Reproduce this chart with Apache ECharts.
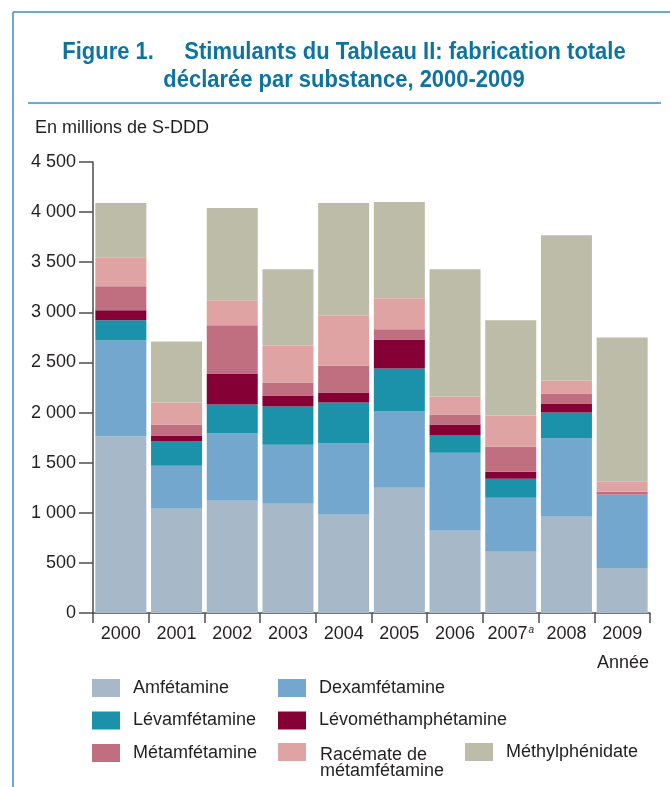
<!DOCTYPE html>
<html>
<head>
<meta charset="utf-8">
<script src="https://cdn.jsdelivr.net/npm/echarts@6/dist/echarts.min.js"></script>
<style>
    html, body { margin: 0; padding: 0; background: #fff; }
    #chart { width: 670px; height: 787px; }
</style>
</head>
<body>
<div id="chart"></div>
<script>
    // années (2007 porte une note a)
    var years = ['2000', '2001', '2002', '2003', '2004', '2005', '2006', '2007', '2008', '2009'];
    var noteYears = ['2007'];
    var yTicks = [0, 500, 1000, 1500, 2000, 2500, 3000, 3500, 4000, 4500];

    // en millions de S-DDD
    var amfetamine = [1760, 1040, 1120, 1090, 980, 1250, 820, 610, 960, 450];
    var dexamfetamine = [960, 430, 670, 590, 710, 760, 780, 540, 780, 730];
    var levamfetamine = [200, 240, 290, 380, 410, 430, 170, 190, 260, 0];
    var levomethamphetamine = [100, 60, 310, 110, 100, 290, 110, 70, 90, 0];
    var metamfetamine = [240, 110, 480, 130, 270, 100, 100, 250, 100, 30];
    var racemate = [290, 220, 250, 370, 500, 310, 180, 310, 130, 100];
    var methylphenidate = [540, 610, 920, 760, 1120, 960, 1270, 950, 1450, 1440];

    var seriesNames = ['Amfétamine', 'Dexamfétamine', 'Lévamfétamine', 'Lévométhamphétamine',
        'Métamfétamine', 'Racémate de métamfétamine', 'Méthylphénidate'];
    var seriesValues = [amfetamine, dexamfetamine, levamfetamine, levomethamphetamine,
        metamfetamine, racemate, methylphenidate];
    var colors = ['#a7b8c9', '#74a7cd', '#1b92aa', '#840035', '#c06f80', '#e0a3a4', '#bdbca8'];

    var textColor = '#231f20';
    var font = "'Liberation Sans', Arial, sans-serif";
    var titleColor = '#0f73a0';
    var frameColor = '#3b8ec0';
    var axisColor = '#4d4d4d';

    var chart = echarts.init(document.getElementById('chart'), null, { renderer: 'canvas' });

    var series = seriesNames.map(function (name, i) {
        return {
            name: name,
            type: 'bar',
            stack: 'total',
            barWidth: 51,
            itemStyle: { color: colors[i] },
            emphasis: { disabled: true },
            data: seriesValues[i]
        };
    });

    function legendAt(left, top, names, hideText) {
        return {
            left: left,
            top: top,
            padding: 0,
            orient: 'vertical',
            itemWidth: 28,
            itemHeight: 18,
            itemGap: 14.5,
            icon: 'rect',
            selectedMode: false,
            data: names,
            formatter: function (n) { return hideText ? '' : n; },
            textStyle: {
                color: textColor,
                fontFamily: font,
                fontSize: 18,
                lineHeight: 17,
                padding: [0, 0, 0, 8]
            }
        };
    }

    // titre: police grasse resserrée horizontalement
    function titleLine(text, y) {
        return {
            type: 'text', x: 344, y: y, scaleX: 0.915,
            style: {
                text: text, fill: titleColor, font: 'bold 24px ' + font,
                align: 'center', verticalAlign: 'middle'
            }
        };
    }

    var option = {
        animation: false,
        backgroundColor: '#fff',
        grid: { left: 93, right: 20, top: 162, bottom: 174, containLabel: false },
        xAxis: {
            type: 'category',
            data: years,
            axisLine: { lineStyle: { color: axisColor, width: 1.5 } },
            axisTick: { show: true, interval: 0, length: 10, lineStyle: { color: axisColor, width: 1.5 } },
            axisLabel: {
                interval: 0,
                color: textColor,
                fontFamily: font,
                fontSize: 18,
                margin: 12,
                formatter: function (v) {
                    return noteYears.indexOf(v) >= 0 ? v + '{sup|a}' : v;
                },
                rich: {
                    sup: { fontSize: 10, fontStyle: 'italic', fontFamily: font, color: textColor, padding: [0, 0, 9, 1] }
                }
            }
        },
        yAxis: {
            type: 'value',
            min: yTicks[0],
            max: yTicks[yTicks.length - 1],
            interval: yTicks[1] - yTicks[0],
            splitLine: { show: false },
            axisLine: { show: true, lineStyle: { color: axisColor, width: 1.5 } },
            axisTick: { show: true, length: 14, lineStyle: { color: axisColor, width: 1.5 } },
            axisLabel: {
                color: textColor,
                fontFamily: font,
                fontSize: 18,
                margin: 17,
                formatter: function (v) {
                    return String(v).replace(/\B(?=(\d{3})+(?!\d))/g, ' ');
                }
            }
        },
        legend: [
            legendAt(92, 679, [seriesNames[0], seriesNames[2], seriesNames[4]]),
            legendAt(278, 679, [seriesNames[1], seriesNames[3]]),
            legendAt(278, 743, [seriesNames[5]], true),
            legendAt(465, 743, [seriesNames[6]])
        ],
        graphic: [
            // cadre
            { type: 'line', shape: { x1: 13, y1: 12, x2: 670, y2: 12 }, style: { stroke: frameColor, lineWidth: 1.5 } },
            { type: 'line', shape: { x1: 13, y1: 12, x2: 13, y2: 787 }, style: { stroke: frameColor, lineWidth: 1.5 } },
            { type: 'line', shape: { x1: 28, y1: 103, x2: 661, y2: 103 }, style: { stroke: frameColor, lineWidth: 1.5 } },
            titleLine('Figure 1.     Stimulants du Tableau II: fabrication totale', 52),
            titleLine('déclarée par substance, 2000-2009', 80),
            {
                type: 'text', x: 35, y: 128,
                style: { text: 'En millions de S-DDD', fill: textColor, font: '18px ' + font, verticalAlign: 'middle' }
            },
            {
                type: 'text', x: 649, y: 663,
                style: { text: 'Année', fill: textColor, font: '18px ' + font, align: 'right', verticalAlign: 'middle' }
            },
            {
                // libellé de légende sur deux lignes
                type: 'text', x: 320, y: 747,
                style: {
                    text: 'Racémate de\nmétamfétamine', fill: textColor, font: '18px ' + font,
                    lineHeight: 16, verticalAlign: 'top'
                }
            }
        ],
        series: series
    };

    chart.setOption(option);
    window.addEventListener('resize', chart.resize);
</script>
</body>
</html>
